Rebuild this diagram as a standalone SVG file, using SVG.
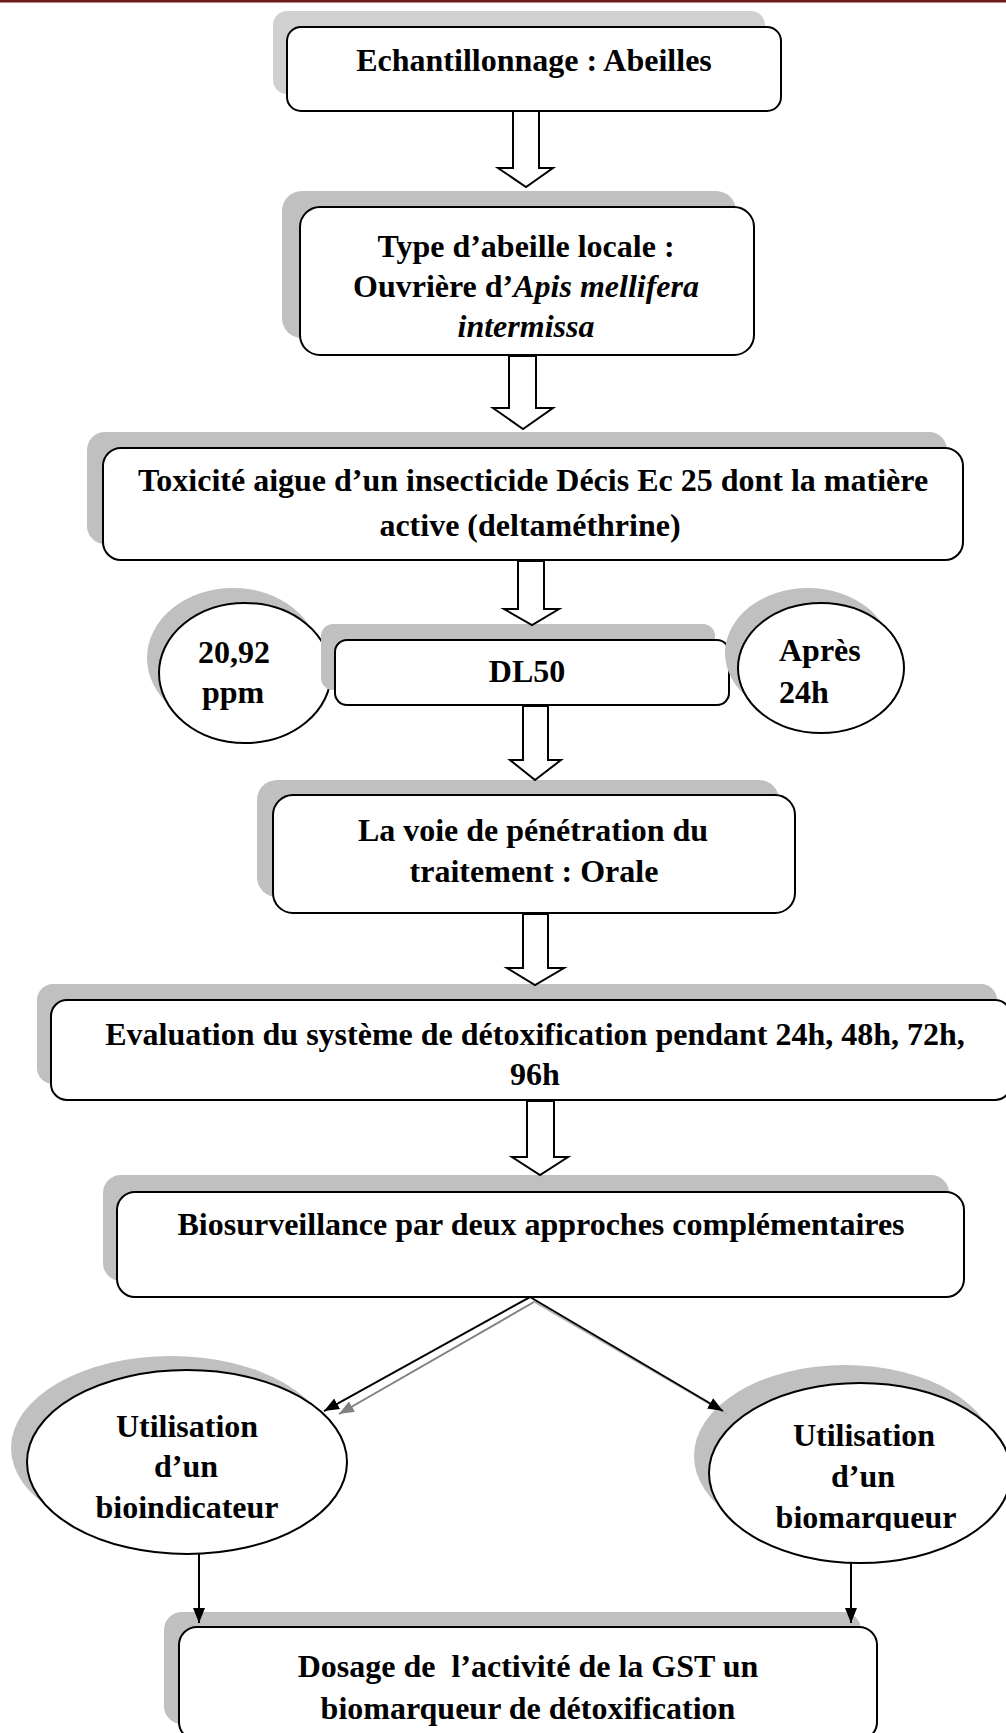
<svg xmlns="http://www.w3.org/2000/svg" width="1006" height="1733" viewBox="0 0 1006 1733">
<style>
  .box { fill: #ffffff; stroke: #000000; stroke-width: 2; }
  .shadow { fill: #c0c0c0; stroke: none; }
  .shadow1 { fill: #d0d0d0; stroke: none; }
  .t { font-family: "Liberation Serif", "Times New Roman", serif; font-weight: bold; font-size: 32px; fill: #000000; }
  .mid { text-anchor: middle; }
  .it { font-style: italic; }
  .block { fill: #ffffff; stroke: #000000; stroke-width: 2; stroke-linejoin: miter; }
  .line { fill: none; stroke: #000000; stroke-width: 2; }
  .gline { fill: none; stroke: #808080; stroke-width: 2; }
  .gline2 { fill: none; stroke: #b0b0b0; stroke-width: 2; }
</style>
<defs>
  <marker id="ah" markerUnits="userSpaceOnUse" markerWidth="16" markerHeight="12" refX="15" refY="6" orient="auto">
    <path d="M0,0 L15,6 L0,12 Z" fill="#000000"/>
  </marker>
  <marker id="ahg" markerUnits="userSpaceOnUse" markerWidth="16" markerHeight="12" refX="15" refY="6" orient="auto">
    <path d="M0,0 L15,6 L0,12 Z" fill="#808080"/>
  </marker>
  <clipPath id="clip96"><rect x="0" y="1000" width="1006" height="87"/></clipPath>
  <clipPath id="clipBiom"><rect x="700" y="1380" width="306" height="151"/></clipPath>
</defs>

<rect x="0" y="0" width="1006" height="2.5" fill="#6e1b1b"/>

<g id="node-echantillonnage">
  <rect class="shadow1" x="273" y="11" width="492" height="83" rx="14"/>
  <rect class="box" x="287" y="27" width="494" height="84" rx="14"/>
  <text class="t mid" x="534" y="71">Echantillonnage : Abeilles</text>
</g>

<g id="node-type-abeille">
  <rect class="shadow" x="282" y="191" width="454" height="147" rx="20"/>
  <rect class="box" x="300" y="207" width="454" height="148" rx="20"/>
  <text class="t mid" x="526" y="257">Type d’abeille locale :</text>
  <text class="t mid" x="526" y="297">Ouvrière d’<tspan class="it">Apis mellifera</tspan></text>
  <text class="t mid it" x="526" y="337">intermissa</text>
</g>

<g id="node-toxicite">
  <rect class="shadow" x="87" y="432" width="860" height="112" rx="18"/>
  <rect class="box" x="103" y="448" width="860" height="112" rx="18"/>
  <text class="t mid" x="533" y="491">Toxicité aigue d’un insecticide Décis Ec 25 dont la matière</text>
  <text class="t mid" x="530" y="536">active (deltaméthrine)</text>
</g>

<g id="node-ppm">
  <ellipse class="shadow" cx="233" cy="658" rx="86" ry="70"/>
  <ellipse class="box" cx="245" cy="673" rx="86" ry="70"/>
  <text class="t mid" x="234" y="663">20,92</text>
  <text class="t mid" x="233" y="703">ppm</text>
</g>

<g id="node-dl50">
  <rect class="shadow" x="321" y="624" width="394" height="66" rx="12"/>
  <rect class="box" x="335" y="640" width="394" height="65" rx="12"/>
  <text class="t mid" x="527" y="682">DL50</text>
</g>

<g id="node-apres">
  <ellipse class="shadow" cx="808" cy="653" rx="83" ry="65"/>
  <ellipse class="box" cx="821" cy="668" rx="83" ry="65"/>
  <text class="t" x="779" y="661">Après</text>
  <text class="t" x="779" y="703">24h</text>
</g>

<g id="node-voie">
  <rect class="shadow" x="257" y="780" width="522" height="117" rx="20"/>
  <rect class="box" x="273" y="795" width="522" height="118" rx="20"/>
  <text class="t mid" x="533" y="841">La voie de pénétration du</text>
  <text class="t mid" x="534" y="882">traitement : Orale</text>
</g>

<g id="node-evaluation">
  <rect class="shadow" x="37" y="984" width="960" height="100" rx="16"/>
  <rect class="box" x="51" y="1000" width="960" height="100" rx="16"/>
  <text class="t mid" x="535" y="1045">Evaluation du système de détoxification pendant 24h, 48h, 72h,</text>
  <text class="t mid" x="535" y="1085" clip-path="url(#clip96)">96h</text>
</g>

<g id="node-biosurveillance">
  <rect class="shadow" x="103" y="1175" width="846" height="106" rx="18"/>
  <rect class="box" x="117" y="1192" width="847" height="105" rx="18"/>
  <text class="t mid" x="541" y="1235">Biosurveillance par deux approches complémentaires</text>
</g>

<g id="node-bioindicateur">
  <ellipse class="shadow" cx="171" cy="1448" rx="160" ry="92"/>
  <ellipse class="box" cx="187" cy="1462" rx="160" ry="92"/>
  <text class="t mid" x="187" y="1437">Utilisation</text>
  <text class="t mid" x="186" y="1477">d’un</text>
  <text class="t mid" x="187" y="1518">bioindicateur</text>
</g>

<g id="node-biomarqueur">
  <ellipse class="shadow" cx="845" cy="1456" rx="151" ry="91"/>
  <ellipse class="box" cx="860" cy="1473" rx="151" ry="90"/>
  <text class="t mid" x="864" y="1446">Utilisation</text>
  <text class="t mid" x="863" y="1487">d’un</text>
  <text class="t mid" x="866" y="1528" clip-path="url(#clipBiom)">biomarqueur</text>
</g>

<g id="node-dosage">
  <rect class="shadow" x="164" y="1612" width="697" height="112" rx="18"/>
  <rect class="box" x="179" y="1627" width="698" height="113" rx="18"/>
  <text class="t mid" x="528" y="1677" xml:space="preserve">Dosage de  l’activité de la GST un</text>
  <text class="t mid" x="528" y="1719">biomarqueur de détoxification</text>
</g>

<g id="connectors">
  <path class="block" d="M513,111 L513,168 L498,168 L526,187 L553,168 L539,168 L539,111 Z"/>
  <path class="block" d="M509,356 L509,408 L493,408 L523,429 L553,408 L536,408 L536,356 Z"/>
  <path class="block" d="M518,561 L518,609 L504,609 L532,625 L559,609 L544,609 L544,561 Z"/>
  <path class="block" d="M523,706 L523,760 L510,760 L535,780 L561,760 L548,760 L548,706 Z"/>
  <path class="block" d="M523,914 L523,968 L507,968 L535,985 L564,968 L548,968 L548,914 Z"/>
  <path class="block" d="M527,1101 L527,1157 L512,1157 L540,1175 L568,1157 L554,1157 L554,1101 Z"/>

  <path class="gline" d="M534,1302 L339,1414" marker-end="url(#ahg)"/>
  <path class="line" d="M530,1297 L324,1411" marker-end="url(#ah)"/>
  <path class="gline2" d="M533,1301 L727,1414"/>
  <path class="line" d="M530,1297 L723,1411" marker-end="url(#ah)"/>

  <path class="line" d="M199,1554 L199,1623" marker-end="url(#ah)"/>
  <path class="line" d="M851,1563 L851,1623" marker-end="url(#ah)"/>
</g>
</svg>
